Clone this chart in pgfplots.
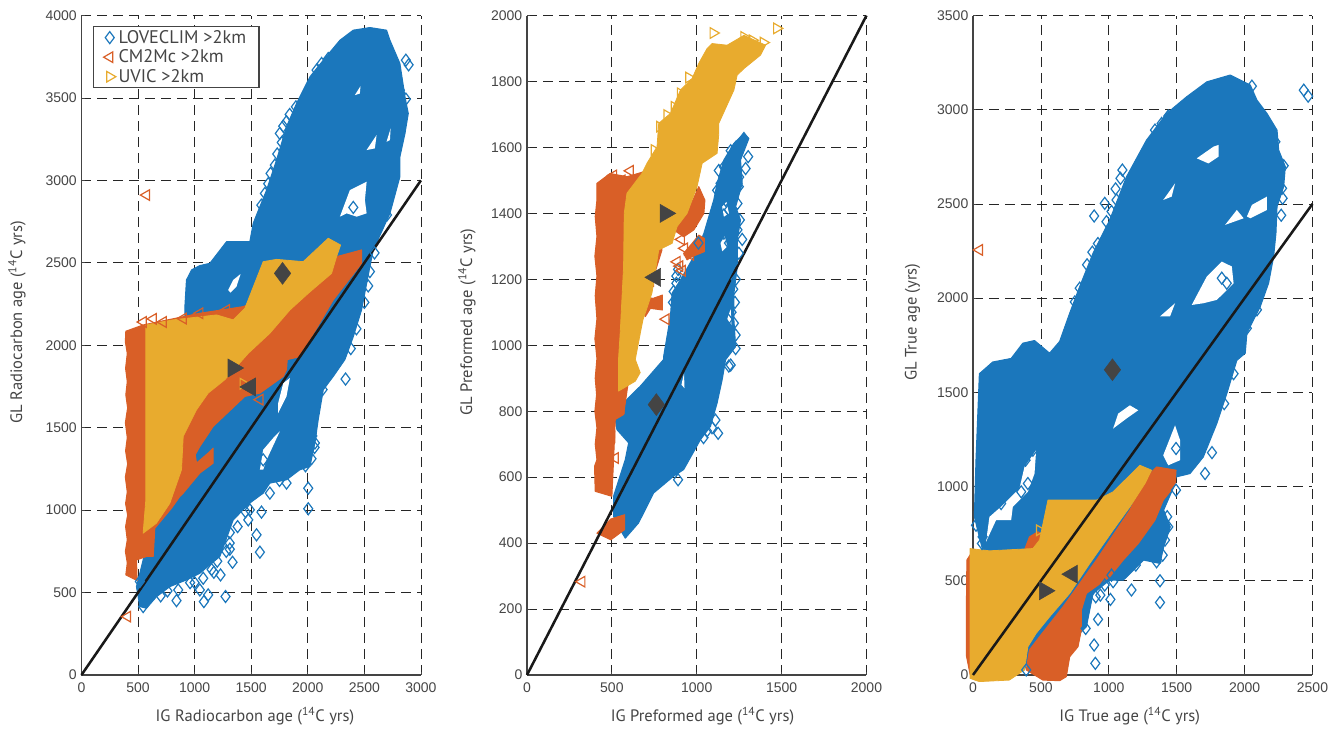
\documentclass[border=0pt]{standalone}
\usepackage{fontspec}
\setmainfont{PT Sans}
\newfontfamily\tickfont{Liberation Sans}
\usepackage{pgfplots}
\pgfplotsset{compat=1.18}
\definecolor{cblue}{HTML}{1B77BC}
\definecolor{corange}{HTML}{D95F27}
\definecolor{cyellow}{HTML}{E8AB2E}
\definecolor{cdark}{HTML}{444444}
\definecolor{ctxt}{HTML}{454545}
\pgfplotsset{
  panel/.style={
    scale only axis, width=254.6pt, height=494.6pt, clip=false,
    axis x line*=bottom, axis y line*=left, axis line style={-, color=cdark, line width=0.9pt},
    xmin=0, ymin=0, grid=major, tick align=inside,
    major tick length=2.5pt,
    tick style={color=cdark, line width=0.6pt},
    grid style={color=black!85, line width=0.6pt, dash pattern=on 7.5pt off 4.5pt},
    /pgf/number format/assume math mode=true,
    /pgf/number format/1000 sep={},
    tick label style={font=\tickfont\fontsize{10.5}{12}\selectfont, text=ctxt},
    xticklabel style={yshift=-2.5pt},
    label style={font=\fontsize{12.4}{14}\selectfont, text=ctxt},
  },
  ylab/.style={ylabel style={at={(axis description cs:#1,0.535)}, anchor=center, rotate=0}},
  xlab/.style={xlabel style={at={(axis description cs:#1,-0.062)}, anchor=center}},
  fb/.style={fill=cblue, draw=cblue, line width=0.8pt, line join=round, forget plot},
  fo/.style={fill=corange, draw=corange, line width=0.8pt, line join=round, forget plot},
  fy/.style={fill=cyellow, draw=cyellow, line width=0.6pt, line join=round, forget plot},
  hole/.style={fill=white, draw=none, forget plot},
  oneline/.style={black!90, line width=1.9pt, forget plot},
  mb/.style={only marks, mark=diamond, mark size=4.5pt, mark options={draw=cblue, fill=none, line width=0.9pt}},
  mo/.style={only marks, mark=triangle, mark size=4.6pt, mark options={draw=corange, fill=none, line width=0.9pt, rotate=90}},
  my/.style={only marks, mark=triangle, mark size=4.6pt, mark options={draw=cyellow, fill=none, line width=0.9pt, rotate=-90}},
  md/.style={only marks, mark=diamond*, mark size=8.2pt, mark options={draw=cdark, fill=cdark}, forget plot},
  ml/.style={only marks, mark=triangle*, mark size=7.8pt, mark options={draw=cdark, fill=cdark, rotate=90}, forget plot},
  mr/.style={only marks, mark=triangle*, mark size=7.8pt, mark options={draw=cdark, fill=cdark, rotate=-90}, forget plot},
}
\begin{document}
\begin{tikzpicture}[x=1pt,y=1pt]
\path (0,0) rectangle (1002,544.5);
% ---------- panel 1
\begin{axis}[panel, at={(61.1pt,38.25pt)}, anchor=origin,
  xmax=3000, ymax=4000, xtick={0,500,...,3000}, ytick={0,500,...,4000},
  xlabel={IG Radiocarbon age (\textsuperscript{14}C yrs)}, ylabel={GL Radiocarbon age (\textsuperscript{14}C yrs)},
  xlab=0.511, ylab=-0.19,
  legend style={at={(rel axis cs:0.034,0.984)}, anchor=north west, draw=cdark, line width=0.9pt, fill=white,
    font=\fontsize{13.7}{15}\selectfont, text=ctxt, row sep=-0.6pt, inner xsep=7.5pt, inner ysep=0.6pt},
  legend cell align=left]
\addlegendimage{mb}\addlegendentry{LOVECLIM >2km}
\addlegendimage{mo}\addlegendentry{CM2Mc >2km}
\addlegendimage{my}\addlegendentry{UVIC >2km}
\addplot[fb] coordinates {(2549,3927)(2696,3911)(2726,3850)(2814,3709)(2859,3507)(2888,3406)(2859,3285)(2814,3143)(2814,3022)(2726,2800)(2579,2578)(2549,2477)(2475,2214)(2402,2052)(2328,1913)(2225,1811)(2137,1730)(2092,1548)(2063,1407)(2019,1265)(1930,1245)(1812,1184)(1665,1164)(1606,1103)(1488,1043)(1341,941)(1223,719)(1046,617)(929,577)(781,536)(663,475)(575,405)(516,415)(486,536)(545,698)(600,900)(800,1300)(914,1800)(914,2234)(928,2396)(973,2457)(1046,2483)(1135,2497)(1282,2628)(1488,2628)(1518,2740)(1636,2941)(1724,3123)(1812,3325)(1901,3467)(2019,3628)(2137,3729)(2284,3850)(2402,3911)} --cycle;
\addplot[hole] coordinates {(1842,1801)(1812,1690)(1739,1589)(1739,1650)(1783,1770)} --cycle;
\addplot[hole] coordinates {(1753,1478)(1636,1305)(1606,1245)(1577,1245)(1606,1366)(1694,1437)} --cycle;
\addplot[hole] coordinates {(1297,2335)(1341,2396)(1406,2432)(1370,2356)(1317,2319)} --cycle;
\addplot[hole] coordinates {(2284,2780)(2372,2941)(2520,2992)(2505,2881)(2520,2800)(2431,2780)(2343,2800)} --cycle;
\addplot[hole] coordinates {(2520,3184)(2608,3275)(2593,3194)} --cycle;
\addplot[hole] coordinates {(2696,3234)(2732,3315)(2726,3244)} --cycle;
\addplot[hole] coordinates {(2416,3517)(2466,3572)(2460,3527)} --cycle;
\addplot[mb, forget plot] coordinates {(2334,1795)(2004,1008)(2004,1133)(1812,1164)(2033,1312)(1842,1275)(1980,1269)(2063,1407)(2013,1629)(2131,1731)(1665,1103)(1636,1214)(1606,1305)(1591,1133)(1562,1154)(1591,988)(1488,1002)(1474,941)(1547,850)(1577,745)(1311,763)(1335,684)(1311,864)(1229,607)(1170,623)(1273,476)(1076,587)(1046,516)(1120,486)(1082,445)(840,451)(855,516)(545,415)(516,567)(2534,2360)(2402,2836)(2867,3729)(2891,3701)(2814,3547)(2867,3493)(1753,3285)(1812,3356)(1783,3329)(1895,3446)(1671,3042)(1709,3093)(1621,2921)(2078,3669)(2122,3709)(2181,3739)(2549,2447)(2107,1931)(2030,1500)(2040,1450)(1150,640)(1000,560)(1840,3400)(1770,3230)(1730,3160)(1650,2980)(1590,2850)(2060,1380)(1960,1330)(1900,1290)(1750,1180)(1620,1170)(1450,990)(1380,900)(1310,800)(1280,750)(1200,690)(960,560)(760,510)(700,480)(2020,1560)(2060,1620)(2120,1780)(2380,1980)(2430,2100)(2500,2260)(2590,2560)(2700,2790)};
\addplot[fo] coordinates {(392,2085)(545,2123)(1046,2194)(1429,2234)(2000,2400)(2254,2537)(2475,2578)(2475,2497)(2225,2275)(1930,1931)(1818,1913)(1812,1852)(1783,1811)(1577,1710)(1444,1690)(1164,1508)(1046,1386)(1005,1336)(1017,1285)(1120,1346)(1164,1376)(1164,1285)(1046,1225)(899,1103)(869,1083)(796,1012)(648,890)(634,719)(575,719)(486,698)(492,573)(392,607)(405,680)(388,750)(405,820)(390,900)(408,970)(390,1040)(405,1110)(388,1200)(408,1280)(390,1360)(405,1440)(388,1530)(408,1620)(392,1700)(405,1780)(390,1860)(405,1950)(388,2020)} --cycle;
\addplot[fy] coordinates {(569,2123)(810,2154)(1194,2184)(1341,2154)(1444,2224)(1606,2507)(1724,2521)(1960,2507)(2181,2649)(2290,2608)(2254,2537)(2210,2436)(2004,2315)(1842,2214)(1665,2073)(1474,1951)(1267,1791)(1120,1710)(1017,1609)(899,1447)(884,1245)(781,1042)(663,921)(545,860)(569,1063)} --cycle;
\addplot[mo, forget plot] coordinates {(575,2911)(407,354)(545,2141)(634,2160)(722,2141)(899,2162)(1046,2194)(1282,2214)(1577,1670)};
\addplot[my, forget plot] coordinates {(1429,1767)};
\addplot[oneline] coordinates {(0,0)(3000,3000)};
\addplot[md] coordinates {(1777,2436)};
\addplot[mr] coordinates {(1341,1862)};
\addplot[ml] coordinates {(1492,1747)};
\end{axis}
% ---------- panel 2
\begin{axis}[panel, at={(395.25pt,38.25pt)}, anchor=origin,
  xmax=2000, ymax=2000, xtick={0,500,...,2000}, ytick={0,200,...,2000},
  xlabel={IG Preformed age (\textsuperscript{14}C yrs)}, ylabel={GL Preformed age (\textsuperscript{14}C yrs)},
  xlab=0.517, ylab=-0.177]
\addplot[fb] coordinates {(1278,1642)(1307,1627)(1258,1562)(1268,1491)(1229,1420)(1258,1380)(1239,1319)(1239,1238)(1219,1158)(1219,1077)(1229,996)(1170,956)(1150,896)(1120,825)(1081,754)(1022,714)(923,623)(864,603)(746,552)(657,461)(579,415)(549,441)(510,481)(510,542)(579,653)(599,704)(530,744)(520,775)(589,836)(668,876)(805,957)(805,966)(845,1087)(855,1158)(904,1198)(983,1269)(1042,1339)(1100,1440)(1120,1491)(1160,1562)(1219,1612)} --cycle;
\addplot[hole] coordinates {(1150,1420)(1175,1435)(1190,1400)(1160,1390)} --cycle;
\addplot[hole] coordinates {(1140,1310)(1165,1330)(1180,1300)(1150,1285)} --cycle;
\addplot[hole] coordinates {(1180,1080)(1200,1110)(1205,1060)} --cycle;
\addplot[hole] coordinates {(910,880)(925,915)(928,870)} --cycle;
\addplot[mb, forget plot] coordinates {(1278,1627)(1303,1572)(1288,1536)(1248,1481)(1160,1541)(1140,1491)(1189,1410)(1254,1380)(1268,1321)(1248,1279)(1229,1031)(1229,990)(1219,1067)(1189,937)(1110,773)(1126,733)(890,592)(880,1188)(864,1163)(1200,1590)(1175,1520)(1215,1450)(1160,1395)(1190,1310)(1130,1350)(1215,1250)(1225,1130)(1150,1060)(1190,1020)(1200,940)(1090,750)(1230,1600)(1250,1510)(1130,1530)(1120,1470)(1240,1430)(1170,1440)(1160,1340)(1240,1350)(1230,1200)(1215,1170)(1205,1100)(1170,1000)(1040,720)(1060,740)(880,1210)(860,1130)(890,1230)(1010,1310)};
\addplot[fo] coordinates {(412,1491)(490,1521)(589,1511)(687,1526)(650,1300)(600,900)(589,861)(569,790)(520,775)(510,653)(500,542)(402,557)(398,633)(412,653)(402,700)(412,750)(400,800)(410,850)(402,900)(412,960)(400,1020)(412,1080)(402,1150)(412,1210)(400,1270)(412,1330)(402,1390)(412,1440)} --cycle;
\addplot[fo] coordinates {(1012,1481)(1048,1440)(1042,1400)(983,1350)(923,1329)(864,1350)(943,1400)} --cycle;
\addplot[fo] coordinates {(776,1339)(795,1289)(746,1208)(746,1178)(707,1188)(727,1248)} --cycle;
\addplot[fo] coordinates {(742,1142)(798,1152)(798,1107)(727,1112)(697,1087)(677,1107)(687,1148)} --cycle;
\addplot[fo] coordinates {(1012,1334)(1045,1324)(1045,1284)(973,1269)(943,1259)(923,1279)(973,1309)} --cycle;
\addplot[fo] coordinates {(575,486)(575,441)(494,410)(412,430)(494,473)} --cycle;
\addplot[fy] coordinates {(539,861)(638,891)(667,917)(638,957)(671,1046)(683,1077)(736,1158)(776,1289)(855,1309)(884,1360)(943,1400)(1002,1481)(1032,1552)(1120,1582)(1130,1642)(1130,1673)(1219,1774)(1238,1819)(1278,1839)(1376,1880)(1406,1910)(1278,1940)(1229,1925)(1179,1910)(1091,1915)(1061,1900)(1012,1855)(973,1809)(904,1774)(845,1703)(776,1673)(766,1602)(707,1552)(677,1521)(589,1461)(573,1400)(569,1238)(549,1036)(539,956)} --cycle;
\addplot[mo, forget plot] coordinates {(323,283)(520,658)(499,722)(553,810)(819,1079)(608,1529)(510,1515)(560,1500)(909,1321)(928,1294)(884,1253)(914,1226)(963,1274)(900,1240)};
\addplot[my, forget plot] coordinates {(1097,1947)(1471,1961)(1278,1935)(1327,1925)(1392,1918)(953,1812)(825,1698)(904,1764)(868,1723)(782,1663)(750,1592)};
\addplot[oneline] coordinates {(0,0)(2000,2000)};
\addplot[md] coordinates {(762,820)};
\addplot[mr] coordinates {(815,1400)};
\addplot[ml] coordinates {(756,1206)};
\end{axis}
% ---------- panel 3
\begin{axis}[panel, at={(729.75pt,38.25pt)}, anchor=origin,
  xmax=2500, ymax=3500, xtick={0,500,...,2500}, ytick={0,500,...,3500},
  xlabel={IG True age (\textsuperscript{14}C yrs)}, ylabel={GL True age (yrs)},
  xlab=0.4615, ylab=-0.178]
\addplot[fb] coordinates {(1894,3184)(2042,3131)(2091,3051)(2165,2980)(2239,2892)(2251,2786)(2300,2698)(2288,2592)(2239,2486)(2231,2344)(2214,2221)(2177,2080)(2116,1956)(2017,1814)(2005,1708)(1943,1670)(1869,1493)(1795,1334)(1696,1157)(1598,1069)(1495,1051)(1478,998)(1404,875)(1453,786)(1404,680)(1377,592)(1256,610)(1108,504)(1007,504)(884,433)(835,256)(786,221)(416,115)(379,27)(100,300)(71,663)(10,840)(22,1140)(47,1599)(145,1661)(281,1680)(367,1761)(453,1775)(564,1708)(638,1770)(712,1920)(786,2062)(884,2238)(1007,2415)(1131,2645)(1278,2839)(1426,2980)(1574,3069)(1722,3148)} --cycle;
\addplot[hole] coordinates {(1611,1964)(1722,2115)(1832,2194)(1906,2168)(1919,2079)(1796,1991)(1697,1973)} --cycle;
\addplot[hole] coordinates {(1857,2389)(1943,2468)(1993,2424)} --cycle;
\addplot[hole] coordinates {(2017,2433)(2054,2495)(2165,2539)(2165,2468)(2042,2424)} --cycle;
\addplot[hole] coordinates {(1648,2742)(1771,2804)(1808,2813)(1808,2751)(1734,2715)} --cycle;
\addplot[hole] coordinates {(1377,1903)(1488,1973)(1451,1903)} --cycle;
\addplot[hole] coordinates {(1401,2521)(1488,2609)(1463,2539)} --cycle;
\addplot[hole] coordinates {(1032,1308)(1069,1387)(1155,1431)(1217,1405)(1130,1361)} --cycle;
\addplot[hole] coordinates {(96,707)(121,839)(219,901)(342,990)(379,1104)(465,1193)(453,1069)(404,972)(293,892)(281,822)(170,822)} --cycle;
\addplot[hole] coordinates {(1401,1166)(1488,1325)(1525,1246)(1525,1140)(1438,1113)} --cycle;
\addplot[mb, forget plot] coordinates {(2436,3104)(2468,3072)(2227,2830)(2214,2763)(2288,2703)(2276,2583)(892,2436)(970,2503)(983,2406)(1057,2521)(1086,2636)(970,2313)(840,2177)(879,2244)(786,2053)(1340,2892)(1389,2927)(1438,2966)(2054,3125)(2091,1938)(2079,1973)(2017,1840)(1832,2106)(1869,2079)(1709,1069)(1495,981)(1438,786)(1414,716)(1397,636)(1352,601)(1199,583)(1377,500)(1377,385)(1167,451)(1012,401)(1032,495)(970,477)(938,424)(904,415)(921,295)(830,247)(892,159)(901,62)(392,27)(71,733)(22,795)(66,698)(264,1007)(404,1016)(355,972)(441,1193)(387,1140)(207,910)(1495,1202)(1919,1599)(1380,780)(1430,840)(1340,700)(1300,650)(1250,640)(1100,540)(1020,530)(1050,2580)(1020,2460)(1100,2680)(920,2290)(750,1980)(1760,1180)(1640,1230)(1850,1440)(2270,2440)(2280,2530)};
\addplot[fo] coordinates {(1352,1104)(1495,1087)(1488,1007)(1401,928)(1340,822)(1217,698)(1106,610)(1007,521)(835,433)(798,345)(798,239)(773,150)(712,97)(687,-9)(638,-30)(515,-27)(392,27)(416,133)(490,203)(663,362)(909,610)(1155,875)(1278,1051)} --cycle;
\addplot[fo] coordinates {(-10,650)(-45,610)(-48,400)(-48,100)(-20,0)(50,0)(50,650)} --cycle;
\addplot[fo] coordinates {(379,663)(416,733)(478,760)(539,733)(539,663)} --cycle;
\addplot[fy] coordinates {(-22,671)(121,659)(441,671)(490,716)(552,928)(909,928)(1032,972)(1229,1113)(1315,1087)(1266,1016)(1155,892)(1032,769)(860,592)(712,433)(564,309)(465,221)(404,150)(379,27)(268,-27)(47,-35)(-22,-18)} --cycle;
\addplot[mo, forget plot] coordinates {(47,2256)};
\addplot[my, forget plot] coordinates {(490,768)};
\addplot[oneline] coordinates {(0,0)(2500,2500)};
\addplot[md] coordinates {(1027,1620)};
\addplot[mr] coordinates {(527,447)};
\addplot[ml] coordinates {(731,535)};
\end{axis}
\end{tikzpicture}
\end{document}
